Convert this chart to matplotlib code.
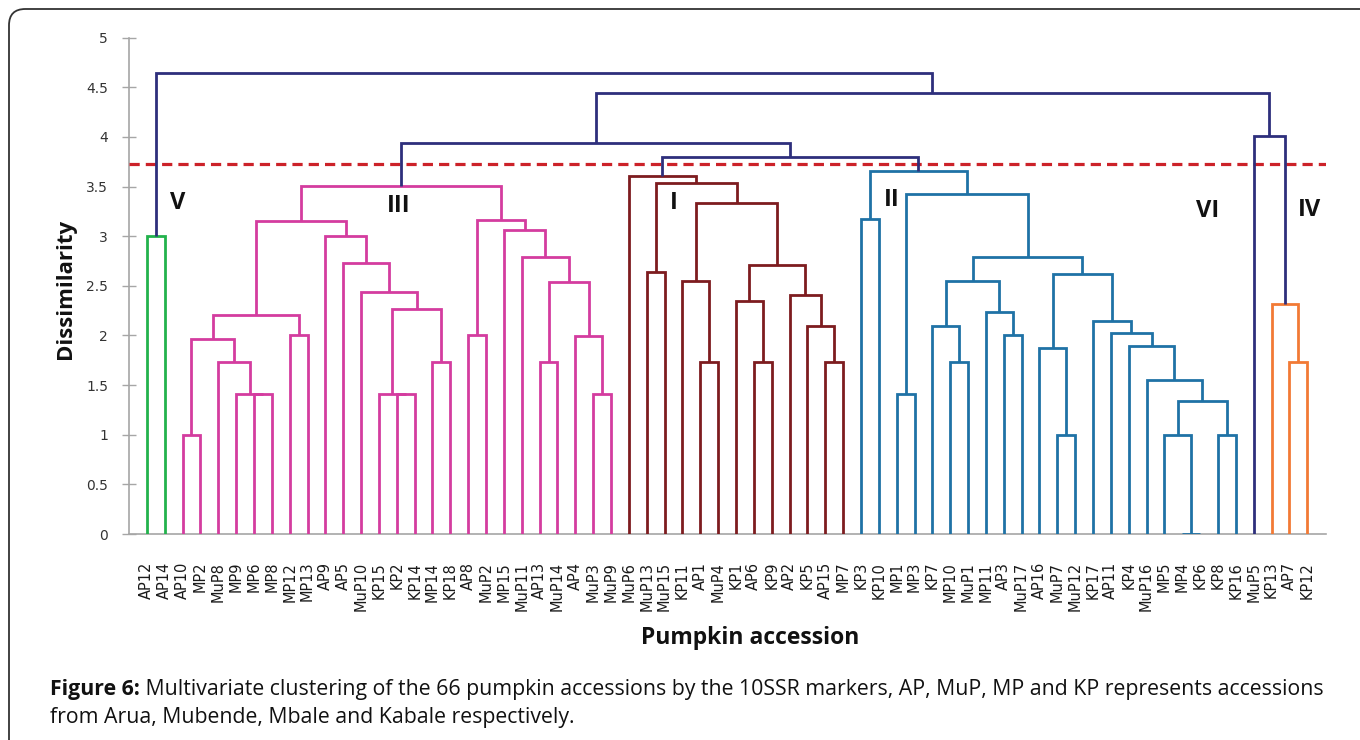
import matplotlib
matplotlib.use("Agg")
import matplotlib.pyplot as plt
from matplotlib.patches import FancyBboxPatch

# ---------------- data ----------------
leaf_labels = ["AP12", "AP14", "AP10", "MP2", "MuP8", "MP9", "MP6", "MP8", "MP12", "MP13",
               "AP9", "AP5", "MuP10", "KP15", "KP2", "KP14", "MP14", "KP18", "AP8", "MuP2",
               "MP15", "MuP11", "AP13", "MuP14", "AP4", "MuP3", "MuP9", "MuP6", "MuP13", "MuP15",
               "KP11", "AP1", "MuP4", "KP1", "AP6", "KP9", "AP2", "KP5", "AP15", "MP7",
               "KP3", "KP10", "MP1", "MP3", "KP7", "MP10", "MuP1", "MP11", "AP3", "MuP17",
               "AP16", "MuP7", "MuP12", "KP17", "AP11", "KP4", "MuP16", "MP5", "MP4", "KP6",
               "KP8", "KP16", "MuP5", "KP13", "AP7", "KP12"]

# linkage (ids >= 66 refer to earlier merges, in order)
link_left = [0,
             2, 6, 5, 4, 67, 8, 71, 14, 13, 16, 75, 12, 11, 10, 73, 18, 22, 25, 24, 83, 21, 20, 82, 81,
             28, 31, 30, 34, 33, 38, 37, 36, 95, 93, 91, 27,
             40, 42, 45, 44, 48, 47, 106, 51, 50, 58, 57, 60, 113, 56, 55, 54, 53, 111, 109, 104, 103,
             64, 63,
             102, 90, 62, 127, 66]
link_right = [1,
              3, 7, 68, 69, 70, 9, 72, 15, 74, 17, 76, 77, 78, 79, 80, 19, 23, 26, 84, 85, 86, 87, 88, 89,
              29, 32, 92, 35, 94, 39, 96, 97, 98, 99, 100, 101,
              41, 43, 46, 105, 49, 107, 108, 52, 110, 59, 112, 61, 114, 115, 116, 117, 118, 119, 120, 121, 122,
              65, 124,
              123, 126, 125, 128, 129]
link_height = [3.00,
               1.00, 1.41, 1.41, 1.73, 1.96, 2.00, 2.21, 1.41, 1.41, 1.73, 2.27, 2.44, 2.73, 3.00, 3.15,
               2.00, 1.73, 1.41, 1.99, 2.54, 2.79, 3.06, 3.16, 3.51,
               2.64, 1.73, 2.55, 1.73, 2.35, 1.73, 2.10, 2.41, 2.71, 3.33, 3.54, 3.61,
               3.17, 1.41, 1.73, 2.10, 2.00, 2.24, 2.55, 1.00, 1.87, 0.00, 1.00, 1.00, 1.34, 1.55, 1.89,
               2.03, 2.15, 2.62, 2.79, 3.43, 3.66,
               1.73, 2.32,
               3.80, 3.94, 4.01, 4.44, 4.64]

cluster_roots = [66, 90, 102, 123, 125]          # V, III, I, II/VI, IV
cluster_colors = ["#22b24c", "#d43c9f", "#7d1c1f", "#1f72a6", "#f27a35"]
above_color = "#2e2f7c"
cut_height = 3.73

cluster_texts = ["V", "III", "I", "II", "VI", "IV"]
y_ticks = [0, 0.5, 1, 1.5, 2, 2.5, 3, 3.5, 4, 4.5, 5]
y_tick_labels = ["0", "0.5", "1", "1.5", "2", "2.5", "3", "3.5", "4", "4.5", "5"]

# ---------------- figure ----------------
W, H = 1360, 740
fig = plt.figure(figsize=(W / 100, H / 100), dpi=100)
fig.patch.set_facecolor("white")

# outer rounded frame
frame = FancyBboxPatch((9 / W, -0.2), 1.2, 1.2 - 9 / H,
                       boxstyle="round,pad=0,rounding_size=0.012",
                       transform=fig.transFigure, fill=False,
                       edgecolor="#333333", linewidth=1.3, mutation_aspect=W / H)
fig.patches.append(frame)

ax_l, ax_r, ax_b, ax_t = 129, 1326, 534, 37.7
ax = fig.add_axes([ax_l / W, 1 - ax_b / H, (ax_r - ax_l) / W, (ax_b - ax_t) / H])

n = len(leaf_labels)
xpos = {i: float(i) for i in range(n)}
hpos = {i: 0.0 for i in range(n)}
children = {}
for k, (a, b, h) in enumerate(zip(link_left, link_right, link_height)):
    node = n + k
    children[node] = (a, b)
    xpos[node] = (xpos[a] + xpos[b]) / 2
    hpos[node] = h

node_color = {}
def paint(node, col):
    if node < n:
        return
    node_color[node] = col
    for c in children[node]:
        paint(c, col)
for root, col in zip(cluster_roots, cluster_colors):
    paint(root, col)

# cut line
ax.axhline(cut_height, color="#cc2229", lw=2.3, dashes=(3.2, 1.9), zorder=1)

for k, (a, b, h) in enumerate(zip(link_left, link_right, link_height)):
    node = n + k
    col = node_color.get(node, above_color)
    ax.plot([xpos[a], xpos[a], xpos[b], xpos[b]], [hpos[a], h, h, hpos[b]],
            color=col, lw=2.0, solid_joinstyle="miter", solid_capstyle="butt", zorder=3)

ax.set_xlim(-1.0, 66.05)
ax.set_ylim(0, 5)

for s in ["top", "right"]:
    ax.spines[s].set_visible(False)
for s in ["left", "bottom"]:
    ax.spines[s].set_color("#a6a6a6")
    ax.spines[s].set_linewidth(1.2)
    ax.spines[s].set_zorder(0)

ax.set_yticks(y_ticks)
ax.set_yticklabels(y_tick_labels, fontsize=10, color="#333333", family="DejaVu Sans")
ax.tick_params(axis="y", direction="inout", length=10, width=1.0, color="#a6a6a6", pad=10)

ax.set_xticks(range(n))
ax.set_xticklabels(leaf_labels, rotation=90, fontsize=10.5, color="#1a1a1a",
                   family="DejaVu Sans", va="top", ha="center")
ax.tick_params(axis="x", length=0, pad=20)

# cluster labels (data coordinates)
label_pos = [(1.74, 3.33), (14.1, 3.30), (29.5, 3.33), (41.7, 3.36), (59.4, 3.25), (65.1, 3.26)]
for t, (x, y) in zip(cluster_texts, label_pos):
    ax.text(x, y, t, fontsize=17, fontweight="bold", family="Open Sans",
            ha="center", va="center", color="#111111", zorder=4)

# axis titles
fig.text(65 / W, 1 - 289 / H, "Dissimilarity", rotation=90, fontsize=16, fontweight="bold",
         family="Open Sans", ha="center", va="center", color="#111111")
fig.text(750 / W, 1 - 638 / H, "Pumpkin accession", fontsize=16.5, fontweight="bold",
         family="Open Sans", ha="center", va="center", color="#111111")

# caption
cap_bold = "Figure 6:"
cap_rest = " Multivariate clustering of the 66 pumpkin accessions by the 10SSR markers, AP, MuP, MP and KP represents accessions"
cap_line2 = "from Arua, Mubende, Mbale and Kabale respectively."
x0, target = 50, 1326 - 50
fs = 13.0
fig.canvas.draw()
r = fig.canvas.get_renderer()
for _ in range(3):
    t1 = fig.text(0, 0, cap_bold, fontsize=fs, fontweight="bold", family="Open Sans")
    t2 = fig.text(0, 0, cap_rest, fontsize=fs, family="Open Sans")
    w = t1.get_window_extent(r).width + t2.get_window_extent(r).width
    t1.remove(); t2.remove()
    fs *= target / w
t1 = fig.text(x0 / W, 1 - 690 / H, cap_bold, fontsize=fs, fontweight="bold",
              family="Open Sans", va="center", color="#111111")
w1 = t1.get_window_extent(r).width
fig.text((x0 + w1) / W, 1 - 690 / H, cap_rest, fontsize=fs, family="Open Sans",
         va="center", color="#111111")
fig.text(x0 / W, 1 - 717 / H, cap_line2, fontsize=fs, family="Open Sans",
         va="center", color="#111111")

fig.savefig("out.png", dpi=100, facecolor="white")
